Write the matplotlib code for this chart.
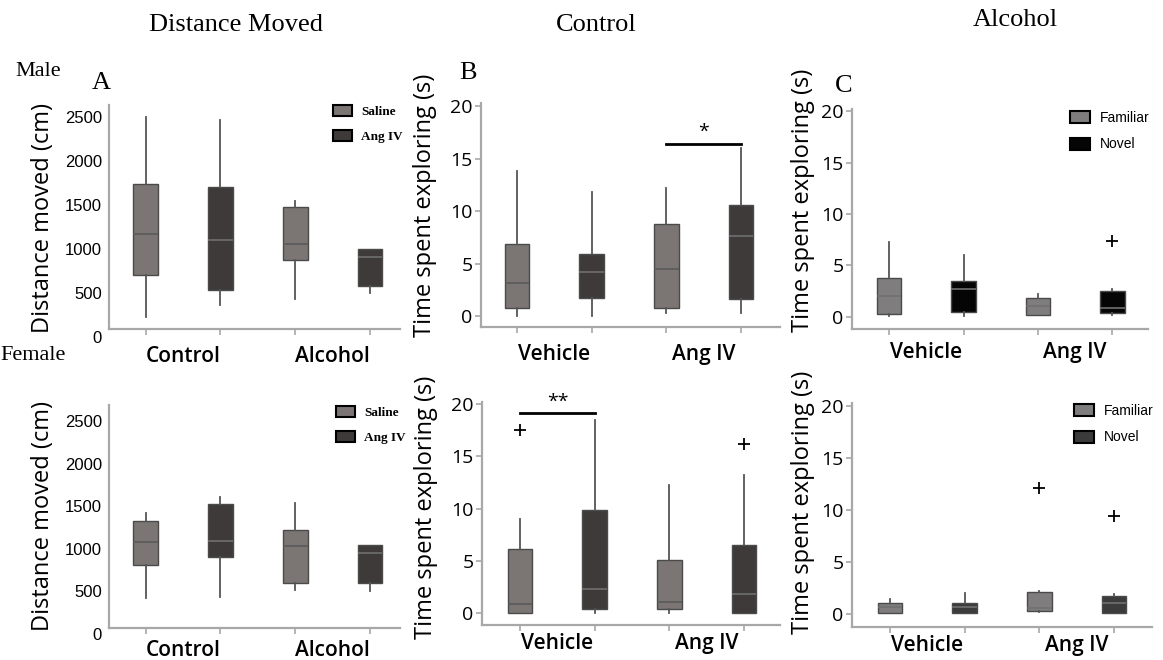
import matplotlib
matplotlib.use("Agg")
import matplotlib.pyplot as plt
from matplotlib.patches import Patch
from matplotlib import font_manager

# ---- data ----
groups_dist = ["Control", "Alcohol"]
groups_nor = ["Vehicle", "Ang IV"]

# A: distance moved, male
dist_male_lo = [230, 360, 430, 500]
dist_male_q1 = [700, 530, 875, 580]
dist_male_med = [1170, 1100, 1055, 910]
dist_male_q3 = [1740, 1700, 1475, 1000]
dist_male_hi = [2500, 2465, 1545, 1000]
dist_male_fl = [[], [], [], []]

# A: distance moved, female
dist_fem_lo = [420, 435, 515, 505]
dist_fem_q1 = [810, 905, 600, 600]
dist_fem_med = [1080, 1095, 1035, 955]
dist_fem_q3 = [1330, 1530, 1225, 1045]
dist_fem_hi = [1425, 1610, 1540, 1045]
dist_fem_fl = [[], [], [], []]

# B: control, male
ctl_male_lo = [0.0, 0.0, 0.3, 0.3]
ctl_male_q1 = [0.8, 1.7, 0.8, 1.6]
ctl_male_med = [3.1, 4.2, 4.5, 7.6]
ctl_male_q3 = [6.9, 5.9, 8.8, 10.6]
ctl_male_hi = [13.8, 11.8, 12.2, 16.0]
ctl_male_fl = [[], [], [], []]

# B: control, female
ctl_fem_lo = [0.0, 0.0, 0.0, 0.0]
ctl_fem_q1 = [0.0, 0.4, 0.4, 0.0]
ctl_fem_med = [0.9, 2.3, 1.1, 1.8]
ctl_fem_q3 = [6.1, 9.9, 5.1, 6.5]
ctl_fem_hi = [9.0, 18.5, 12.3, 13.2]
ctl_fem_fl = [[17.5], [], [], [16.2]]

# C: alcohol, male
alc_male_lo = [0.1, 0.1, 0.2, 0.2]
alc_male_q1 = [0.3, 0.5, 0.2, 0.4]
alc_male_med = [2.0, 2.7, 1.1, 0.9]
alc_male_q3 = [3.8, 3.5, 1.8, 2.5]
alc_male_hi = [7.3, 6.0, 2.2, 2.7]
alc_male_fl = [[], [], [], [7.4]]

# C: alcohol, female
alc_fem_lo = [0.1, 0.1, 0.2, 0.1]
alc_fem_q1 = [0.1, 0.1, 0.3, 0.1]
alc_fem_med = [0.7, 0.7, 0.6, 1.1]
alc_fem_q3 = [1.1, 1.1, 2.1, 1.7]
alc_fem_hi = [1.4, 2.0, 2.2, 1.9]
alc_fem_fl = [[], [], [12.1], [9.4]]

# significance bars: (box a, box b, bar height, label)
sig_ctl_male = (3, 4, 16.4, "*")
sig_ctl_fem = (1, 2, 19.1, "**")

# ---- fonts ----
_have = {f.name for f in font_manager.fontManager.ttflist}


def pick(*names):
    for n in names:
        if n in _have:
            return n
    return "DejaVu Sans"


SANS = pick("Open Sans", "Noto Sans", "DejaVu Sans")
NARROW = pick("Liberation Sans Narrow", "Liberation Sans")
SERIF = pick("Liberation Serif", "DejaVu Serif")

LIGHT = "#7b7674"
DARK = "#3e3a3a"
SPINE = "#a8a8a8"

W, H = 1163, 660
fig = plt.figure(figsize=(W / 100, H / 100), dpi=100)


def px_axes(left, right, top, bottom):
    return fig.add_axes([left / W, 1 - bottom / H, (right - left) / W, (bottom - top) / H])


def stats_of(lo, q1, med, q3, hi, fl):
    return [dict(whislo=a, q1=b, med=c, q3=d, whishi=e, fliers=f)
            for a, b, c, d, e, f in zip(lo, q1, med, q3, hi, fl)]


def draw_panel(ax, stats, colors, xlim, ylim, yticks, groups, tick_font, tick_size,
               label_pad, floor=None):
    if floor is not None:
        # x axis drawn above the zero line, as in the original figure
        ax.spines["bottom"].set_position(("data", floor))
        ax.spines["left"].set_bounds(floor, ylim[1])
    res = ax.bxp(stats, positions=[1, 2, 3, 4], widths=0.33, patch_artist=True,
                 showcaps=False, showfliers=True,
                 boxprops=dict(edgecolor="#4a4a4a", linewidth=1.0),
                 whiskerprops=dict(color="#555555", linewidth=1.3),
                 flierprops=dict(marker="+", markeredgecolor="black", markersize=9,
                                 markeredgewidth=1.3))
    for box, med, c in zip(res["boxes"], res["medians"], colors):
        box.set_facecolor(c)
        med.set_color("#5a5a5a" if c == LIGHT else "#707070")
        med.set_linewidth(1.2)
    ax.set_xlim(*xlim)
    ax.set_ylim(*ylim)
    ax.set_yticks(yticks)
    ax.set_xticks([1.5, 3.5])
    ax.set_xticklabels(groups, fontfamily=SANS, fontsize=15, fontweight="semibold")
    ax.set_xticks([1, 2, 3, 4], minor=True)
    ax.set_yticklabels([str(t) for t in yticks], fontfamily=tick_font, fontsize=tick_size)
    ax.tick_params(axis="x", which="major", length=0, pad=label_pad)
    ax.tick_params(axis="x", which="minor", length=4, color=SPINE, width=1.2)
    if floor is not None:
        ax.tick_params(axis="y", length=0, pad=5)
    else:
        ax.tick_params(axis="y", length=4, color=SPINE, width=1.2, pad=2)
    for s in ("top", "right"):
        ax.spines[s].set_visible(False)
    for s in ("left", "bottom"):
        ax.spines[s].set_color(SPINE)
        ax.spines[s].set_linewidth(1.6)


def ylabel_at(ax, text, x, y):
    ax.set_ylabel(text, fontfamily=SANS, fontsize=17)
    ax.yaxis.set_label_coords(x / W, 1 - y / H, transform=fig.transFigure)


def legend_at(ax, labels, colors, x, y, font, size, weight="normal"):
    handles = [Patch(facecolor=c, edgecolor="black", linewidth=1.5) for c in colors]
    ax.legend(handles, labels, loc="upper left", bbox_to_anchor=(x / W, 1 - y / H),
              bbox_transform=fig.transFigure, frameon=False, borderpad=0,
              borderaxespad=0, handlelength=1.45, handleheight=0.95,
              handletextpad=0.7, labelspacing=0.9,
              prop=dict(family=font, size=size, weight=weight))


def sig_bar(ax, sig):
    a, b, y, txt = sig
    ax.plot([a, b], [y, y], color="black", linewidth=2)
    ax.text((a + b) / 2, y + 0.25, txt, ha="center", va="bottom", fontsize=14,
            fontfamily=SANS)


pair = [LIGHT, DARK, LIGHT, DARK]

# ---- A: distance moved ----
axA1 = px_axes(109, 400, 105, 337)
draw_panel(axA1, stats_of(dist_male_lo, dist_male_q1, dist_male_med, dist_male_q3,
                          dist_male_hi, dist_male_fl),
           pair, (0.51, 4.4), (0, 2636), [0, 500, 1000, 1500, 2000, 2500],
           groups_dist, NARROW, 12, 12, floor=91)
ylabel_at(axA1, "Distance moved (cm)", 55, 218)
legend_at(axA1, ["Saline", "Ang IV"], [LIGHT, DARK], 333, 105, SERIF, 9.5, "bold")

axA2 = px_axes(109, 400, 405, 634)
draw_panel(axA2, stats_of(dist_fem_lo, dist_fem_q1, dist_fem_med, dist_fem_q3,
                          dist_fem_hi, dist_fem_fl),
           pair, (0.51, 4.4), (0, 2693), [0, 500, 1000, 1500, 2000, 2500],
           groups_dist, NARROW, 12, 9, floor=71)
ylabel_at(axA2, "Distance moved (cm)", 55, 516)
legend_at(axA2, ["Saline", "Ang IV"], [LIGHT, DARK], 336, 406, SERIF, 9.5, "bold")

# ---- B: control ----
axB1 = px_axes(481, 780, 103, 327)
draw_panel(axB1, stats_of(ctl_male_lo, ctl_male_q1, ctl_male_med, ctl_male_q3,
                          ctl_male_hi, ctl_male_fl),
           pair, (0.518, 4.52), (-1.05, 20.3), [0, 5, 10, 15, 20],
           groups_nor, SANS, 14, 12)
ylabel_at(axB1, "Time spent exploring (s)", 437, 205)
sig_bar(axB1, sig_ctl_male)

axB2 = px_axes(482, 780, 402, 625)
draw_panel(axB2, stats_of(ctl_fem_lo, ctl_fem_q1, ctl_fem_med, ctl_fem_q3,
                          ctl_fem_hi, ctl_fem_fl),
           pair, (0.49, 4.48), (-1.14, 20.2), [0, 5, 10, 15, 20],
           groups_nor, SANS, 14, 6)
ylabel_at(axB2, "Time spent exploring (s)", 438, 507)
sig_bar(axB2, sig_ctl_fem)

# ---- C: alcohol ----
axC1 = px_axes(852, 1148, 109, 329)
draw_panel(axC1, stats_of(alc_male_lo, alc_male_q1, alc_male_med, alc_male_q3,
                          alc_male_hi, alc_male_fl),
           ["#7f7d7d", "#050505", "#7f7d7d", "#050505"], (0.50, 4.48), (-1.17, 20.2),
           [0, 5, 10, 15, 20], groups_nor, SANS, 14, 9)
ylabel_at(axC1, "Time spent exploring (s)", 815, 200)
legend_at(axC1, ["Familiar", "Novel"], ["#7f7d7d", "#050505"], 1070, 111, NARROW, 10)

axC2 = px_axes(852, 1152, 403, 627)
draw_panel(axC2, stats_of(alc_fem_lo, alc_fem_q1, alc_fem_med, alc_fem_q3,
                          alc_fem_hi, alc_fem_fl),
           ["#7f7d7d", "#3b3b3b", "#7f7d7d", "#3b3b3b"], (0.49, 4.51), (-1.25, 20.3),
           [0, 5, 10, 15, 20], groups_nor, SANS, 14, 6)
ylabel_at(axC2, "Time spent exploring (s)", 815, 502)
legend_at(axC2, ["Familiar", "Novel"], ["#7f7d7d", "#3b3b3b"], 1074, 404, NARROW, 10)


# ---- headings ----
def ftext(x, y, s, size, **kw):
    fig.text(x / W, 1 - y / H, s, fontsize=size, fontfamily=SERIF, ha="center",
             va="center", **kw)


ftext(236, 25, "Distance Moved", 19)
ftext(596, 25, "Control", 19)
ftext(1015, 20, "Alcohol", 19)
ftext(38, 72, "Male", 16)
ftext(33, 356, "Female", 16)
ftext(101, 83, "A", 19)
ftext(468, 73, "B", 19)
ftext(844, 86, "C", 19)

fig.savefig("out.png", dpi=100)
